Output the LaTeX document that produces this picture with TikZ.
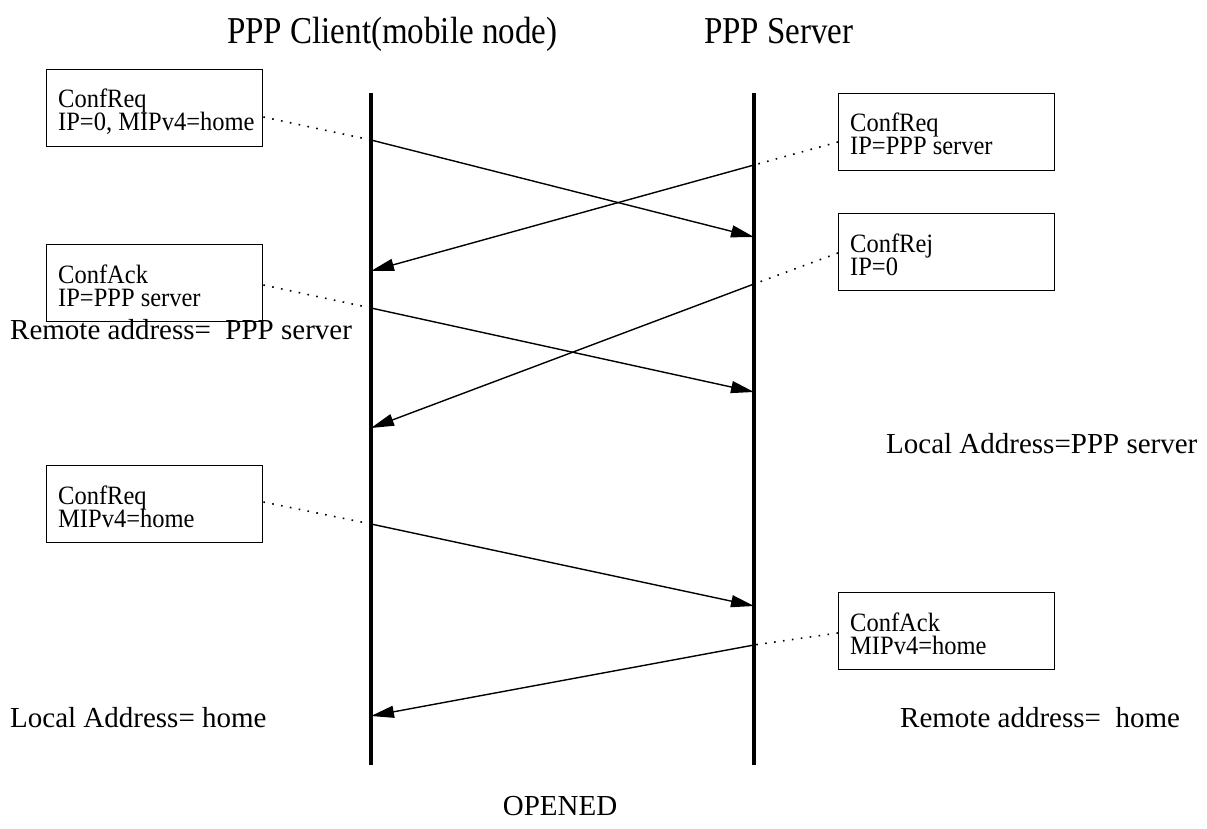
\documentclass[tikz,border=0pt]{standalone}
\usepackage{fontspec}
\usepackage{graphicx}
\setmainfont{Liberation Serif}
\usetikzlibrary{arrows.meta}

% text set slightly taller than wide
\newcommand{\tallA}[1]{\scalebox{1}[1.15]{#1}}
\newcommand{\tallB}[1]{\scalebox{1}[1.08]{#1}}

\begin{document}
\begin{tikzpicture}[x=1pt,y=-1pt,
  lifeline/.style={line width=3.1pt},
  msg/.style={line width=1.4pt,-{Triangle[length=23pt,width=12pt]}},
  note/.style={line width=1.6pt,dash pattern=on 1.6pt off 7.4pt},
  optbox/.style={draw,line width=1.4pt,rectangle,minimum width=216pt,
    minimum height=77pt,anchor=north west,inner sep=0pt},
  boxtxt/.style={anchor=base west,inner sep=0pt,font=\fontsize{24.5}{29}\selectfont},
  heading/.style={anchor=base west,inner sep=0pt,font=\fontsize{33}{40}\selectfont},
  state/.style={anchor=base west,inner sep=0pt,font=\fontsize{29}{34}\selectfont},
]
\useasboundingbox[fill=white] (0,0) rectangle (1207,829);

% headings
\node[heading] (hclient) at (227,44) {\tallA{PPP Client(mobile node)}};
\node[heading] (hserver) at (704,44) {\tallA{PPP Server}};

% lifelines
\coordinate (ltop) at (371,93);
\coordinate (lbot) at (371,765);
\coordinate (rtop) at (754,93);
\coordinate (rbot) at (754,765);
\draw[lifeline] (ltop) -- (lbot);
\draw[lifeline] (rtop) -- (rbot);

% option boxes
\node[optbox] (b1) at (46,69) {};
\node[boxtxt] (b1a) at ([xshift=12pt,yshift=-39pt]b1.north west) {\tallB{ConfReq}};
\node[boxtxt] (b1b) at ([xshift=12pt,yshift=-62pt]b1.north west) {\tallB{IP=0, MIPv4=home}};

\node[optbox] (b2) at (838,93) {};
\node[boxtxt] (b2a) at ([xshift=12pt,yshift=-39pt]b2.north west) {\tallB{ConfReq}};
\node[boxtxt] (b2b) at ([xshift=12pt,yshift=-62pt]b2.north west) {\tallB{IP=PPP server}};

\node[optbox] (b3) at (838,213) {};
\node[boxtxt] (b3a) at ([xshift=12pt,yshift=-39pt]b3.north west) {\tallB{ConfRej}};
\node[boxtxt] (b3b) at ([xshift=12pt,yshift=-62pt]b3.north west) {\tallB{IP=0}};

\node[optbox] (b4) at (46,244) {};
\node[boxtxt] (b4a) at ([xshift=12pt,yshift=-39pt]b4.north west) {\tallB{ConfAck}};
\node[boxtxt] (b4b) at ([xshift=12pt,yshift=-62pt]b4.north west) {\tallB{IP=PPP server}};

\node[optbox] (b5) at (46,465) {};
\node[boxtxt] (b5a) at ([xshift=12pt,yshift=-39pt]b5.north west) {\tallB{ConfReq}};
\node[boxtxt] (b5b) at ([xshift=12pt,yshift=-62pt]b5.north west) {\tallB{MIPv4=home}};

\node[optbox] (b6) at (838,592) {};
\node[boxtxt] (b6a) at ([xshift=12pt,yshift=-39pt]b6.north west) {\tallB{ConfAck}};
\node[boxtxt] (b6b) at ([xshift=12pt,yshift=-62pt]b6.north west) {\tallB{MIPv4=home}};

% message end points on the lifelines
\coordinate (s1) at (371,140);  \coordinate (e1) at (754,237);
\coordinate (s2) at (754,165);  \coordinate (e2) at (371,271);
\coordinate (s3) at (371,308);  \coordinate (e3) at (754,392);
\coordinate (s4) at (754,284);  \coordinate (e4) at (371,428);
\coordinate (s5) at (371,524);  \coordinate (e5) at (754,606);
\coordinate (s6) at (754,645);  \coordinate (e6) at (371,716);

% dotted leaders from boxes to message starts
\draw[note] ([yshift=-48pt]b1.north east) -- (s1);
\draw[note] ([yshift=-49pt]b2.north west) -- (s2);
\draw[note] ([yshift=-40pt]b3.north west) -- (s4);
\draw[note] ([yshift=-41pt]b4.north east) -- (s3);
\draw[note] ([yshift=-37pt]b5.north east) -- (s5);
\draw[note] ([yshift=-41pt]b6.north west) -- (s6);

% messages
\draw[msg] (s1) -- (e1);
\draw[msg] (s2) -- (e2);
\draw[msg] (s3) -- (e3);
\draw[msg] (s4) -- (e4);
\draw[msg] (s5) -- (e5);
\draw[msg] (s6) -- (e6);

% address states
\node[state] (st1) at (10,339) {Remote address=\ \ PPP server};
\node[state] (st2) at (886,453) {Local Address=PPP server};
\node[state] (st3) at (10,727) {Local Address= home};
\node[state] (st4) at (900,727) {Remote address=\ \ home};
\node[state,anchor=base] (st5) at (560,815) {OPENED};
\end{tikzpicture}
\end{document}
